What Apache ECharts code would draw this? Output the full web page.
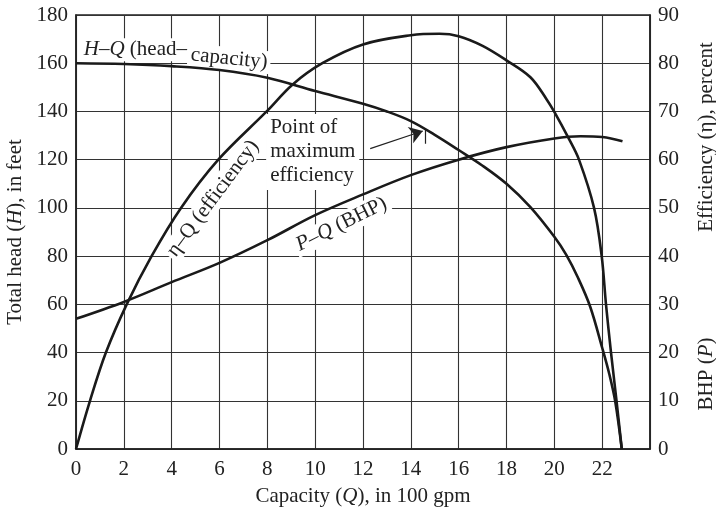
<!DOCTYPE html>
<html><head><meta charset="utf-8">
<script src="https://cdn.jsdelivr.net/npm/echarts@6/dist/echarts.min.js"></script>
<style>html,body{margin:0;padding:0;background:#fff}#c{width:716px;height:512px}</style>
</head><body><div id="c"></div>
<script>
// Capacity (Q, in 100 gpm) and values
const hqX = [0, 2, 4, 6, 8, 10, 12, 13, 14, 15, 16, 17, 18, 19, 20, 20.5, 21, 21.5, 22, 22.3, 22.55, 22.82];
const hqY = [160, 159.7, 158.8, 157.2, 154, 148.5, 143.2, 140, 136, 130.3, 124, 117.5, 110, 100.3, 88, 80.5, 70.8, 59, 42, 31, 19.5, 0];

const effX = [0, 0.585, 1.25, 2.12, 3.16, 4.39, 5.95, 7.97, 9.06, 10.3, 12, 14, 15.2, 16, 17, 18, 19, 19.68, 20, 20.6, 21.03, 21.66, 21.98, 22.16, 22.37, 22.6, 22.82];
const effY = [0, 10, 20, 30, 40, 50, 60, 70, 75.6, 80, 83.9, 85.8, 86.1, 85.6, 83.6, 80.6, 77.1, 72.5, 69.9, 64.4, 60, 50, 40, 30, 20, 10, 0];

const bhpX = [0, 2, 4, 6, 8, 10, 12, 14, 16, 18, 20, 21.1, 22, 22.85];
const bhpY = [27, 30.5, 34.6, 38.6, 43.3, 48.5, 52.8, 56.8, 60, 62.6, 64.4, 64.85, 64.7, 63.8];

const xMin = 0, xMax = 24, xStep = 2;
const leftMin = 0, leftMax = 180, leftStep = 20;
const rightMin = 0, rightMax = 90, rightStep = 10;

// annotation anchors in data coordinates (x, left-axis value)
const arrowFrom = [12.3, 124.6], arrowTo = [14.5, 131.9];
const tickTop = [14.6, 132.5], tickBottom = [14.6, 126.6];

const FONT = '"Liberation Serif", "Times New Roman", serif';
const FS = 21;
const TXT = '#222';
const pairs = (xs, ys) => xs.map((x, i) => [x, ys[i]]);
const rich = {
  n: {fontFamily: FONT, fontSize: FS, color: TXT, fill: TXT},
  i: {fontFamily: FONT, fontSize: FS, color: TXT, fill: TXT, fontStyle: 'italic'}
};

const chart = echarts.init(document.getElementById('c'), null, {renderer: 'canvas'});
const curve = {color: '#1a1a1a', width: 2.6};
const SM = 0.35;

chart.setOption({
  animation: false,
  grid: {left: 76, right: 66, top: 15, bottom: 63, show: true, borderColor: '#222', borderWidth: 1.5,
         containLabel: false, outerBoundsMode: 'none'},
  xAxis: {
    type: 'value', min: xMin, max: xMax, interval: xStep,
    axisLine: {show: true, lineStyle: {color: '#222', width: 1.5}},
    axisTick: {show: false},
    splitLine: {show: true, lineStyle: {color: '#333', width: 1.1}},
    axisLabel: {fontFamily: FONT, fontSize: FS, color: TXT, margin: 10,
      formatter: v => v === xMax ? '' : String(v)},
    name: '{n|Capacity (}{i|Q}{n|), in 100 gpm}',
    nameLocation: 'middle', nameGap: 37,
    nameTextStyle: {rich: rich}
  },
  yAxis: [{
    type: 'value', min: leftMin, max: leftMax, interval: leftStep,
    axisLine: {show: true, lineStyle: {color: '#222', width: 1.5}},
    axisTick: {show: false},
    splitLine: {show: true, lineStyle: {color: '#333', width: 1.1}},
    axisLabel: {fontFamily: FONT, fontSize: FS, color: TXT, margin: 8},
    name: '{n|Total head (}{i|H}{n|), in feet}',
    nameLocation: 'middle', nameGap: 48,
    nameTextStyle: {rich: rich}
  }, {
    type: 'value', min: rightMin, max: rightMax, interval: rightStep, position: 'right',
    axisLine: {show: true, lineStyle: {color: '#222', width: 1.5}},
    axisTick: {show: false},
    splitLine: {show: false},
    axisLabel: {fontFamily: FONT, fontSize: FS, color: TXT, margin: 8}
  }],
  series: [{
    name: 'H-Q', type: 'line', yAxisIndex: 0, data: pairs(hqX, hqY),
    showSymbol: false, smooth: SM, lineStyle: curve, z: 5,
    markLine: {
      silent: true, animation: false,
      symbol: ['none', 'arrow'], symbolSize: 13,
      lineStyle: {color: '#222', width: 1.2, type: 'solid'},
      label: {show: false},
      data: [
        [{coord: arrowFrom}, {coord: arrowTo}],
        [{coord: tickTop, symbol: 'none'}, {coord: tickBottom, symbol: 'none'}]
      ]
    }
  }, {
    name: 'eta-Q', type: 'line', yAxisIndex: 1, data: pairs(effX, effY),
    showSymbol: false, smooth: SM, lineStyle: curve, z: 5
  }, {
    name: 'P-Q', type: 'line', yAxisIndex: 1, data: pairs(bhpX, bhpY),
    showSymbol: false, smooth: SM, lineStyle: curve, z: 5
  }]
});

const px = (x, y) => chart.convertToPixel({gridIndex: 0}, [x, y]);
function label(pos, text, rot, align, extra) {
  return {
    type: 'text', x: pos[0], y: pos[1], rotation: rot, z: 3,
    style: Object.assign({
      text: text, rich: rich, fontFamily: FONT, fontSize: FS, fill: TXT,
      align: align, verticalAlign: 'middle', backgroundColor: '#fff', padding: [1, 3]
    }, extra || {})
  };
}
const g = [
  label(px(0.2, 165.6), '{i|H}{n|–}{i|Q}{n| (head–}', 0, 'left'),
  label(px(4.68, 163.6), '{n|capacity)}', -0.1, 'left'),
  label(px(5.73, 103.9), '{n|η–Q (efficiency)}', 0.93, 'center'),
  label(px(11.1, 93.2), '{i|P}{n|–}{i|Q}{n| (BHP)}', 0.46, 'center'),
  label(px(7.95, 123.2), 'Point of\nmaximum\nefficiency', 0, 'left', {lineHeight: 24, padding: [2, 4]}),
  {type: 'text', x: 706, y: 137, rotation: Math.PI / 2, z: 20,
   style: {text: '{n|Efficiency (η), percent}', rich: rich, align: 'center', verticalAlign: 'middle'}},
  {type: 'text', x: 706, y: 374, rotation: Math.PI / 2, z: 20,
   style: {text: '{n|BHP (}{i|P}{n|)}', rich: rich, align: 'center', verticalAlign: 'middle'}}
];
chart.setOption({graphic: g});
</script>
</body></html>
